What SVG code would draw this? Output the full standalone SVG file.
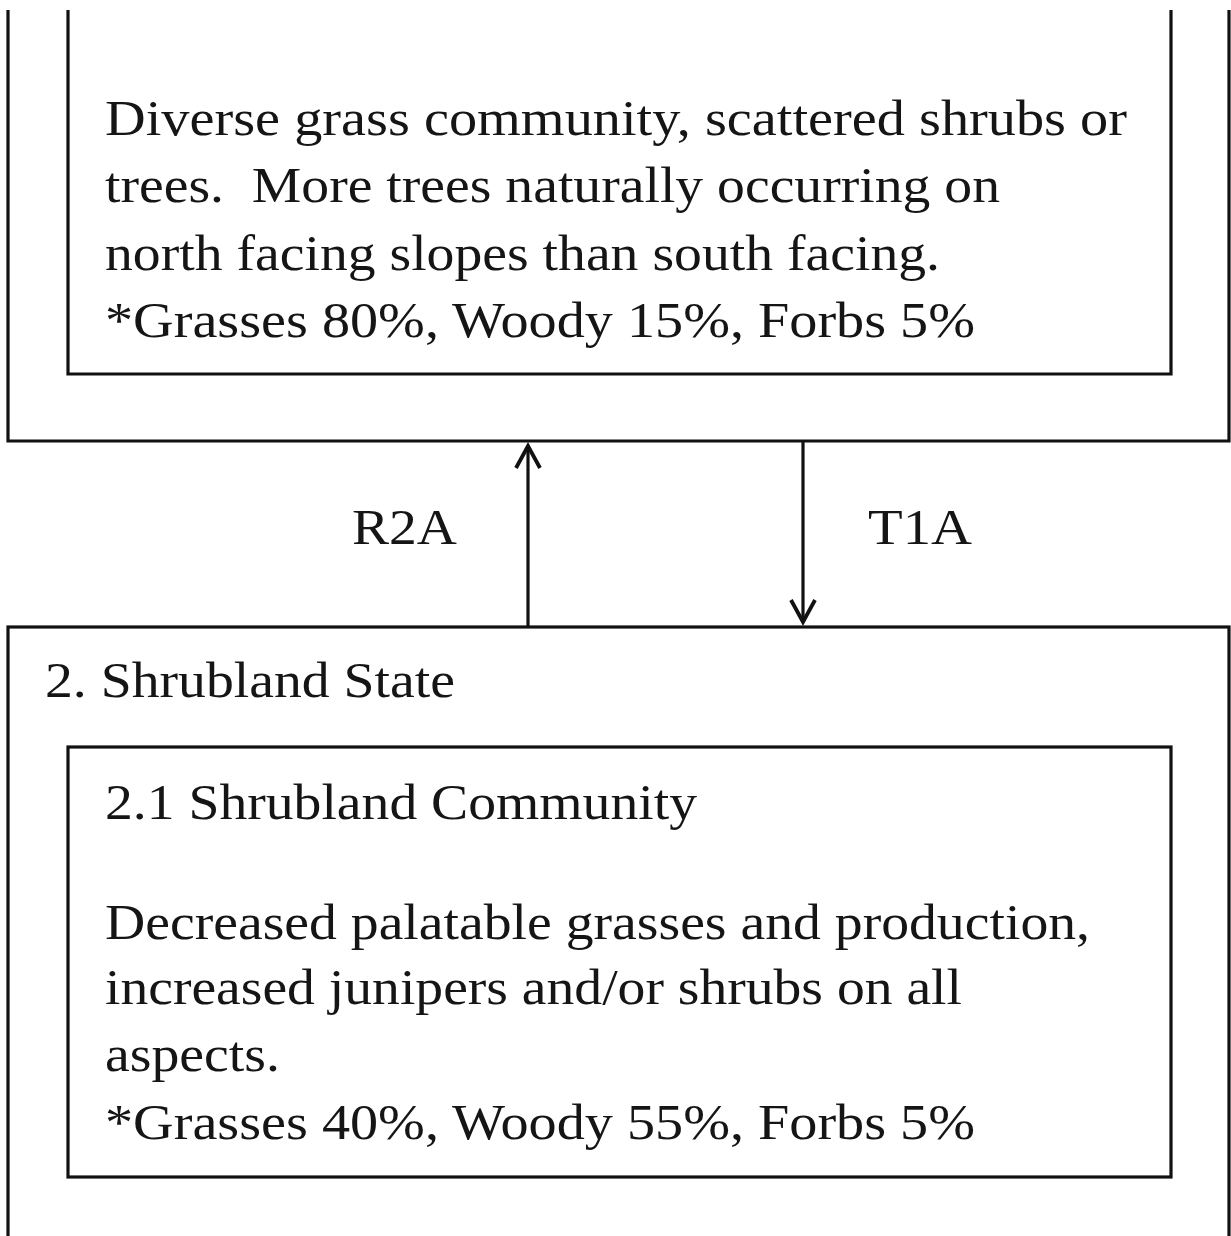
<svg xmlns="http://www.w3.org/2000/svg" width="1231" height="1236" viewBox="0 0 1231 1236">
<style>
.box{fill:none;stroke:#111;stroke-width:3.2}
.t{font-family:"Liberation Serif","Times New Roman",serif;font-size:50px;fill:#151515;white-space:pre}
.c{fill:none;stroke:#111;stroke-width:3.2}
</style>
<defs>
<marker id="ah" viewBox="0 0 30 30" refX="26" refY="15" markerWidth="30" markerHeight="30" markerUnits="userSpaceOnUse" orient="auto">
<path d="M4,3 L26,15 L4,27" fill="none" stroke="#111" stroke-width="3.8"/>
</marker>
</defs>
<rect width="1231" height="1236" fill="#fff"/>
<g id="state1">
<path class="box" d="M8,10 V441 H1229 V10"/>
<g id="community1">
<path class="box" d="M68,10 V374 H1171 V10"/>
<text class="t" x="105" y="135" textLength="1022" lengthAdjust="spacingAndGlyphs">Diverse grass community, scattered shrubs or</text>
<text class="t" x="105" y="202" textLength="895" lengthAdjust="spacingAndGlyphs">trees.  More trees naturally occurring on</text>
<text class="t" x="105" y="270" textLength="835" lengthAdjust="spacingAndGlyphs">north facing slopes than south facing.</text>
<text class="t" x="105" y="337" textLength="870" lengthAdjust="spacingAndGlyphs">*Grasses 80%, Woody 15%, Forbs 5%</text>
</g>
</g>
<g id="connectors">
<line class="c" x1="528" y1="626" x2="528" y2="446" marker-end="url(#ah)"/>
<line class="c" x1="803" y1="442" x2="803" y2="622" marker-end="url(#ah)"/>
<text class="t" x="352" y="544" textLength="105" lengthAdjust="spacingAndGlyphs">R2A</text>
<text class="t" x="868" y="544" textLength="104" lengthAdjust="spacingAndGlyphs">T1A</text>
</g>
<g id="state2">
<rect class="box" x="8" y="627" width="1221" height="620"/>
<text class="t" x="45" y="697" textLength="410" lengthAdjust="spacingAndGlyphs">2. Shrubland State</text>
<g id="community2">
<rect class="box" x="68" y="747" width="1103" height="430"/>
<text class="t" x="105" y="819" textLength="592" lengthAdjust="spacingAndGlyphs">2.1 Shrubland Community</text>
<text class="t" x="105" y="939" textLength="985" lengthAdjust="spacingAndGlyphs">Decreased palatable grasses and production,</text>
<text class="t" x="105" y="1004" textLength="857" lengthAdjust="spacingAndGlyphs">increased junipers and/or shrubs on all</text>
<text class="t" x="105" y="1071" textLength="175" lengthAdjust="spacingAndGlyphs">aspects.</text>
<text class="t" x="105" y="1139" textLength="870" lengthAdjust="spacingAndGlyphs">*Grasses 40%, Woody 55%, Forbs 5%</text>
</g>
</g>
</svg>
